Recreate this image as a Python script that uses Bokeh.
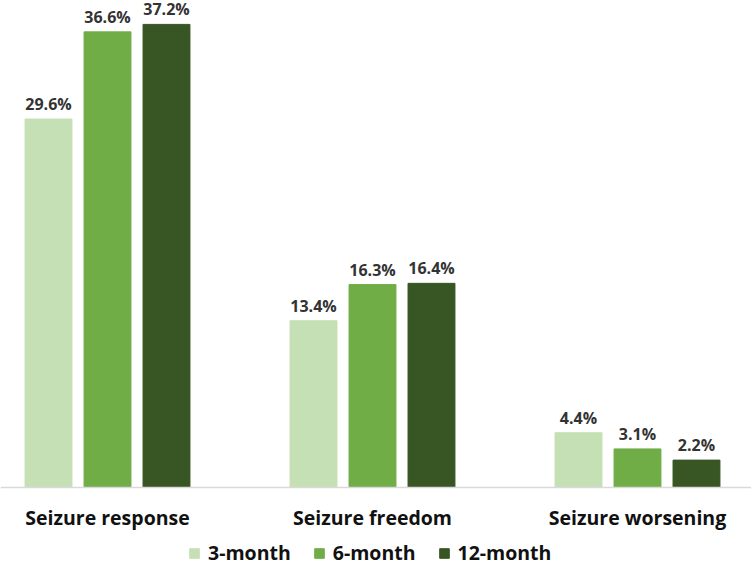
from bokeh.plotting import figure
from bokeh.models import ColumnDataSource, Range1d, FixedTicker, Legend, LegendItem, LabelSet
from bokeh.core.properties import value
from bokeh.embed import file_html
from bokeh.resources import INLINE

categories = ["Seizure response", "Seizure freedom", "Seizure worsening"]
series = ["3-month", "6-month", "12-month"]
v3 = [29.6, 13.4, 4.4]
v6 = [36.6, 16.3, 3.1]
v12 = [37.2, 16.4, 2.2]
colors = ["#C5E0B4", "#70AD47", "#375623"]

FONT = "Open Sans"

p = figure(frame_width=751, frame_height=566, output_backend="svg", toolbar_location=None,
           x_range=Range1d(-0.4038, 2.4302), y_range=Range1d(-6.345, 39.12),
           min_border_left=0, min_border_right=0, min_border_top=0, min_border_bottom=0)

offsets = [-0.2226, 0.0, 0.2226]
items = []
for vals, name, col, off in zip([v3, v6, v12], series, colors, offsets):
    xs = [i + off for i in range(len(categories))]
    src = ColumnDataSource(dict(x=xs, top=vals, lab=[f"{v:.1f}%" for v in vals]))
    r = p.vbar(x="x", top="top", width=0.177, bottom=0, source=src,
               fill_color=col, line_color=col)
    items.append(LegendItem(label=name, renderers=[r]))
    p.add_layout(LabelSet(x="x", y="top", text="lab", source=src, text_align="center",
                          text_baseline="alphabetic", y_offset=9, text_font=value(FONT),
                          text_font_size="16px", text_font_style="bold", text_color="#333333"))

p.xaxis.fixed_location = 0
p.xaxis.ticker = FixedTicker(ticks=[0, 1, 2])
p.xaxis.major_label_overrides = {0: categories[0], 1: categories[1], 2: categories[2]}
p.xaxis.major_label_text_font = FONT
p.xaxis.major_label_text_font_size = "19.5px"
p.xaxis.major_label_text_font_style = "bold"
p.xaxis.major_label_text_color = "#111111"
p.xaxis.major_label_standoff = 10
p.xaxis.major_tick_line_color = None
p.xaxis.minor_tick_line_color = None
p.xaxis.axis_line_color = "#D9D9D9"
p.xaxis.axis_line_width = 1.5
p.yaxis.visible = False
p.xgrid.visible = False
p.ygrid.visible = False
p.outline_line_color = None

legend = Legend(items=items, orientation="horizontal", location=(188, 0),
                label_text_font=FONT, label_text_font_size="19.5px",
                label_text_font_style="bold", label_text_color="#111111",
                glyph_width=12, glyph_height=12, spacing=22, label_standoff=8,
                padding=0, margin=0, border_line_color=None, background_fill_alpha=0)
p.add_layout(legend, "center")

open("out.html", "w").write(file_html(p, INLINE))
